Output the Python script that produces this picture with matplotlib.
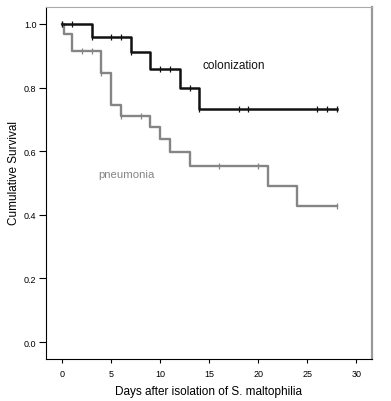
import numpy as np
import matplotlib
matplotlib.use('Agg')
import matplotlib.pyplot as plt

plt.rcParams['font.family'] = ['Liberation Sans', 'DejaVu Sans']

# Kaplan-Meier steps
col_days = [0, 3, 7, 9, 12, 14, 28]
col_surv = [1.0, 0.958, 0.913, 0.858, 0.80, 0.733, 0.733]
col_cens = [0, 1, 3, 5, 6, 7, 10, 11, 13, 14, 18, 19, 26, 27, 28]

pn_days = [0, 0.15, 1, 4, 5, 6, 9, 10, 11, 13, 21, 24, 28]
pn_surv = [1.0, 0.968, 0.916, 0.846, 0.745, 0.71, 0.677, 0.638, 0.597, 0.553, 0.49, 0.428, 0.428]
pn_cens = [0, 2, 3, 4, 6, 8, 16, 20, 28]


def surv_at(days, surv, t):
    i = np.searchsorted(days, t, side='right') - 1
    return surv[i]


fig = plt.figure(figsize=(3.91, 4.02), dpi=100)
ax = fig.add_axes([0.118, 0.1045, 0.833, 0.8755])

ax.step(pn_days, pn_surv, where='post', color='#858585', lw=1.7)
ax.step(col_days, col_surv, where='post', color='#111111', lw=1.8)
ax.plot(pn_cens, [surv_at(pn_days, pn_surv, t) for t in pn_cens], ls='none',
        marker='|', ms=5, mew=0.9, color='#858585')
ax.plot(col_cens, [surv_at(col_days, col_surv, t) for t in col_cens], ls='none',
        marker='|', ms=5, mew=0.9, color='#111111')

ax.text(14.3, 0.86, 'colonization', fontsize=8.5, color='#111111')
ax.text(3.7, 0.52, 'pneumonia', fontsize=8.2, color='#858585')

ax.set_xlim(-1.63, 31.6)
ax.set_ylim(-0.053, 1.053)
ax.set_xticks([0, 5, 10, 15, 20, 25, 30])
ax.set_yticks([0.0, 0.2, 0.4, 0.6, 0.8, 1.0])
ax.set_yticklabels(['0.0', '0.2', '0.4', '0.6', '0.8', '1.0'])
ax.tick_params(labelsize=6.5, length=5, width=0.8, pad=2)
ax.tick_params(axis='x', length=3, pad=4)
ax.spines['right'].set_color('#999999')
ax.spines['right'].set_linewidth(1.6)
ax.spines['top'].set_color('#aaaaaa')
ax.set_xlabel('Days after isolation of S. maltophilia', fontsize=8.5, labelpad=5)
ax.set_ylabel('Cumulative Survival', fontsize=8.5)
ax.yaxis.set_label_coords(-0.08, 0.53)

fig.savefig('out.png', dpi=100)
